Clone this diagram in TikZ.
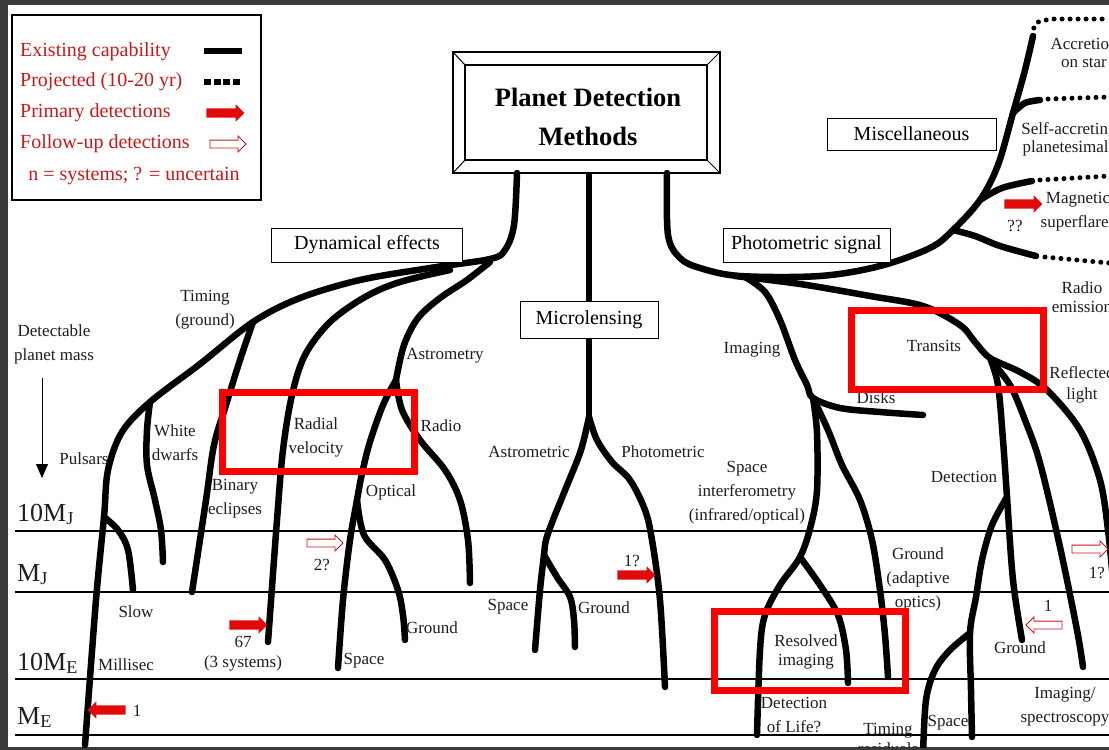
\documentclass[tikz,border=0pt]{standalone}
\usepackage{fontspec}
\setmainfont{Liberation Serif}
\usetikzlibrary{shapes.arrows, arrows.meta}
\definecolor{framegray}{RGB}{58,58,58}
\definecolor{legendred}{RGB}{200,25,25}
\definecolor{arrowred}{RGB}{225,10,10}
\definecolor{boxred}{RGB}{255,0,0}
\definecolor{inktext}{RGB}{30,30,30}

\tikzset{
  branch/.style={line width=6.5pt, line cap=round, line join=round},
  projected/.style={line width=5pt, line cap=round, dash pattern=on 0pt off 8pt},
  lbl/.style={font=\fontsize{17}{24}\selectfont, text=inktext, align=center, inner sep=0pt},
  catbox/.style={draw, line width=1pt, font=\fontsize{20}{22}\selectfont, inner sep=0pt},
  legtext/.style={font=\fontsize{20}{22}\selectfont, text=legendred, anchor=west, inner sep=0pt},
  masslbl/.style={font=\fontsize{26}{26}\selectfont, text=inktext, anchor=base west, inner sep=0pt},
  primary/.style={single arrow, fill=arrowred, inner sep=4.5pt, minimum height=38pt,
                  single arrow head extend=4pt},
  followup/.style={single arrow, draw=legendred, fill=white, line width=0.9pt, inner sep=3.5pt,
                   minimum height=36pt, single arrow head extend=4pt},
  markbox/.style={draw=boxred, line width=7pt},
  massline/.style={line width=1.2pt},
}

\begin{document}
\begin{tikzpicture}[x=1pt, y=-1pt]
\useasboundingbox (0,0) rectangle (1109,750);
\fill[framegray] (0,0) rectangle (1109,750);
\fill[white] (8,5) rectangle (1109,747);
\begin{scope}
\clip (8,5) rectangle (1109,747);

% mass levels
\foreach \yy in {531,592,679,735}
  \draw[massline] (15,\yy) -- (1109,\yy);
\node[masslbl] (tenmj) at (17,521) {10M\textsubscript{J}};
\node[masslbl] (mj) at (17,581) {M\textsubscript{J}};
\node[masslbl] (tenme) at (17,670) {10M\textsubscript{E}};
\node[masslbl] (me) at (17,724) {M\textsubscript{E}};
\node[lbl] (detmass) at (54,344) {Detectable\\planet mass};
\draw[line width=1pt, -{Triangle[length=14pt,width=12pt]}] (42,378) -- (42,478);

% legend
\draw[line width=1.2pt] (12,15) rectangle (261,200);
\node[legtext] (lg1) at (20,52) {Existing capability};
\node[legtext] (lg2) at (20,82) {Projected (10-20 yr)};
\node[legtext] (lg3) at (20,113) {Primary detections};
\node[legtext] (lg4) at (20,144) {Follow-up detections};
\node[legtext, anchor=center] (lg5) at (134,176) {n = systems; ? = uncertain};
\draw[line width=6pt] (204,51) -- (242,51);
\draw[line width=6pt, dash pattern=on 7pt off 2.5pt] (204,82) -- (242,82);
\node[primary] (lgp) at (223,113) {};
\node[followup] (lgf) at (226,144) {};

% title
\draw[line width=1.2pt] (453,52) rectangle (720,173);
\draw[line width=1.2pt] (465,65) rectangle (707,160);
\draw[line width=1pt] (453,52) -- (465,65) (720,52) -- (707,65)
  (453,173) -- (465,160) (720,173) -- (707,160);
\node[font=\bfseries\fontsize{26.5}{39}\selectfont, align=center] (title) at (588,117)
  {Planet Detection\\Methods};

% dynamical effects
\draw[branch] plot[smooth, tension=0.55] coordinates {(517,173) (514,225) (505,250) (490,259)
  (430,268) (360,280) (300,298) (253,322) (200,364) (150,402) (122,432) (108,470) (104,517)
  (96,600) (85,745)};
\draw[branch] plot[smooth, tension=0.55] coordinates {(253,322) (240,360) (226,405) (214,445)
  (206,500) (192,592)};
\draw[branch] plot[smooth, tension=0.55] coordinates {(150,402) (147,430) (147,465) (155,500)
  (161,530) (163,562)};
\draw[branch] plot[smooth, tension=0.55] coordinates {(104,517) (118,530) (128,550) (133,590)};
\draw[branch] plot[smooth, tension=0.55] coordinates {(450,270) (400,282) (365,297) (330,322)
  (305,355) (292,395) (283,450) (277,520) (268,642)};
\draw[branch] plot[smooth, tension=0.55] coordinates {(490,262) (467,280) (440,298) (418,318)
  (404,345) (396,380)};
\draw[branch] plot[smooth, tension=0.55] coordinates {(396,380) (402,410) (420,440) (445,470)
  (460,500) (468,540) (470,583)};
\draw[branch] plot[smooth, tension=0.55] coordinates {(396,380) (383,405) (369,445) (360,483)
  (357,500) (350,540) (343,600) (338,668)};
\draw[branch] plot[smooth, tension=0.55] coordinates {(357,500) (364,535) (385,560) (398,590)
  (403,615) (405,640)};
\node[catbox, minimum width=191pt, minimum height=34pt, fill=white] (dyn) at (367,245) {Dynamical effects};

% microlensing
\draw[branch, line cap=butt] (589,173) -- (589,302);
\draw[branch] (589,337) -- (589,417);
\draw[branch] plot[smooth, tension=0.55] coordinates {(589,417) (581,450) (568,483) (553,520)
  (546,540) (544,555) (540,590) (535,650)};
\draw[branch] plot[smooth, tension=0.55] coordinates {(544,555) (557,577) (570,597) (574,620)
  (575,647)};
\draw[branch] plot[smooth, tension=0.55] coordinates {(589,417) (597,440) (612,462) (630,480)
  (645,510) (652,540) (660,600) (665,687)};
\node[catbox, minimum width=138pt, minimum height=37pt, fill=white] (micro) at (589,319.5) {Microlensing};

% photometric signal
\draw[branch] plot[smooth, tension=0.55] coordinates {(667,173) (668,235) (680,258) (700,268)
  (740,276) (820,276) (880,266) (930,248) (953,230) (980,200) (998,165) (1013,113) (1025,70)
  (1033,36)};
\draw[branch] plot[smooth, tension=0.55] coordinates {(1013,113) (1025,103) (1040,100)};
\draw[branch] plot[smooth, tension=0.55] coordinates {(980,200) (1002,188) (1032,181)};
\draw[branch] plot[smooth, tension=0.55] coordinates {(953,230) (975,236) (1000,246) (1036,256)};
\draw[projected] (1033,36) .. controls (1034,22) .. (1052,19) -- (1109,19);
\draw[projected] (1048,99) -- (1109,97);
\draw[projected] (1040,180) -- (1109,176);
\draw[projected] (1045,257) -- (1109,263);
% transits
\draw[branch] plot[smooth, tension=0.55] coordinates {(735,276) (800,284) (870,296) (923,306)
  (960,325) (975,342) (990,358) (1020,372) (1047,390) (1080,430) (1100,480) (1108,530) (1112,570)};
\draw[branch] plot[smooth, tension=0.55] coordinates {(990,358) (998,385) (1003,440) (1007,497)
  (1013,580) (1022,640)};
\draw[branch] plot[smooth, tension=0.55] coordinates {(992,362) (1010,385) (1025,420) (1040,463)
  (1060,547) (1077,630) (1083,667)};
\draw[branch] plot[smooth, tension=0.55] coordinates {(1007,497) (992,525) (982,560) (976,597)
  (970,633) (971,690) (972,737)};
\draw[branch] plot[smooth, tension=0.55] coordinates {(970,633) (950,650) (935,670) (926,700)
  (923,755)};
% imaging
\draw[branch] plot[smooth, tension=0.55] coordinates {(745,277) (765,292) (780,320) (795,360)
  (807,385) (813,398) (840,408) (880,412) (923,415)};
\draw[branch] plot[smooth, tension=0.55] coordinates {(813,398) (817,433) (817,490) (811,525)
  (800,557) (780,585) (765,615) (760,650) (757,735)};
\draw[branch] plot[smooth, tension=0.55] coordinates {(800,557) (820,585) (838,615) (846,650)
  (848,683)};
\draw[branch] plot[smooth, tension=0.55] coordinates {(813,398) (828,430) (842,465) (860,500)
  (872,540) (880,590) (885,635) (888,677)};
\node[catbox, minimum width=167pt, minimum height=34pt, fill=white] (phot) at (806.5,245) {Photometric signal};
\node[catbox, minimum width=169pt, minimum height=32pt, fill=white] (misc) at (911.5,134) {Miscellaneous};

% branch labels
\node[lbl] (ltiming) at (205,310) {Timing\\(ground)};
\node[lbl] (lpuls) at (84,459) {Pulsars};
\node[lbl] (lwd) at (175,443) {White\\dwarfs};
\node[lbl] (lbin) at (235,499) {Binary\\eclipses};
\node[lbl] (lrv) at (316,437) {Radial\\velocity};
\node[lbl] (lastry) at (445,356) {Astrometry};
\node[lbl] (lradio) at (441,426) {Radio};
\node[lbl] (lopt) at (391,492) {Optical};
\node[lbl] (lslow) at (136,612) {Slow};
\node[lbl] (lmilli) at (126,665) {Millisec};
\node[lbl] (l67) at (243,654) {67\\[-4pt](3 systems)};
\node[lbl] (l2q) at (322,565) {2?};
\node[lbl] (l1me) at (137,711) {1};
\node[lbl] (lspo) at (364,661) {Space};
\node[lbl] (lgro) at (432,628) {Ground};
\node[lbl] (lastc) at (529,452) {Astrometric};
\node[lbl] (lphc) at (663,452) {Photometric};
\node[lbl] (lspm) at (508,607) {Space};
\node[lbl] (lgrm) at (604,608) {Ground};
\node[lbl] (l1m) at (632,561) {1?};
\node[lbl] (limg) at (752,350) {Imaging};
\node[lbl] (ldisk) at (876,398) {Disks};
\node[lbl] (ltrans) at (934,346) {Transits};
\node[lbl] (ldet) at (964,477) {Detection};
\node[lbl] (lsint) at (747,493) {Space\\interferometry\\(infrared/optical)};
\node[lbl] (lgao) at (918,579) {Ground\\(adaptive\\optics)};
\node[lbl] (lres) at (806,652) {Resolved\\[-5pt]imaging};
\node[lbl] (llife) at (794,715) {Detection\\of Life?};
\node[lbl] (ltres) at (888,739) {Timing\\[-4pt]residuals};
\node[lbl] (lspr) at (948,723) {Space};
\node[lbl] (lgrr) at (1020,648) {Ground};
\node[lbl] (l1g) at (1048,606) {1};
\node[lbl] (l1r) at (1097,573) {1?};
\node[lbl] (lspec) at (1065,707) {Imaging/\\spectroscopy};
\node[lbl] (lacc) at (1084,53) {Accretion\\[-6pt]on star};
\node[lbl] (lself) at (1069,139) {Self-accreting\\[-6pt]planetesimals};
\node[lbl] (lmag) at (1078,212) {Magnetic\\superflares};
\node[lbl] (lqq) at (1015,226) {??};
\node[lbl] (lremi) at (1082,297) {Radio\\[-5pt]emission};
\node[lbl] (lrefl) at (1082,385) {Reflected\\[-3pt]light};

% detections
\node[primary] (pr67) at (246,625) {};
\node[primary, shape border rotate=180] (prme) at (109,710) {};
\node[primary] (prmic) at (634,575) {};
\node[primary] (prmag) at (1021,204) {};
\node[followup] (fu2) at (323,543) {};
\node[followup] (fu1r) at (1088,549) {};
\node[followup, shape border rotate=180] (fu1g) at (1046,625) {};

% highlighted methods
\draw[markbox] (222,392) rectangle (414,471);
\draw[markbox] (851,310) rectangle (1043,389);
\draw[markbox] (714,611) rectangle (905,690);
\end{scope}
\end{tikzpicture}
\end{document}
